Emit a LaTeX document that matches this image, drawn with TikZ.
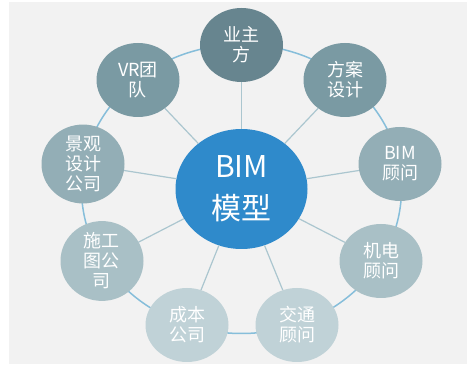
\documentclass[tikz,border=0pt]{standalone}
\usepackage{fontspec}
\newfontfamily\cjk{Noto Sans CJK SC}
\usetikzlibrary{shapes.geometric}
\definecolor{bgc}{HTML}{F2F2F2}
\definecolor{ringc}{HTML}{86BEDA}
\definecolor{spokec}{HTML}{ABC6CF}
\definecolor{cblue}{HTML}{2F8ACB}
\definecolor{cA}{HTML}{67858F}
\definecolor{cB}{HTML}{7A9AA3}
\definecolor{cC}{HTML}{93AEB6}
\definecolor{cD}{HTML}{A9C0C6}
\definecolor{cE}{HTML}{C0D2D7}
\tikzset{
  outer/.style={ellipse, minimum width=83pt, minimum height=74pt, inner sep=0pt,
    text=white, align=center, font=\cjk\fontsize{18}{20}\selectfont},
  hub/.style={ellipse, minimum width=132pt, minimum height=120pt, inner sep=0pt,
    fill=cblue, text=white, align=center, font=\cjk\fontsize{30}{42}\selectfont},
  ring/.style={draw=ringc, line width=1.5pt},
  spoke/.style={draw=spokec, line width=1.2pt}
}
\begin{document}
\begin{tikzpicture}[x=1pt,y=-1pt]
\useasboundingbox (0,0) rectangle (467,366);
\fill[white] (0,0) rectangle (467,366);
\fill[bgc] (9,2) rectangle (467,364);
\draw[ring] (241.5,189) ellipse [x radius=160, y radius=144.5];
\node[hub] (c) at (241.5,189) {BIM\\模型};
\node[outer, fill=cA] (n0) at (241.5,45) {业主\\方};
\node[outer, fill=cB] (n1) at (345,80) {方案\\设计};
\node[outer, fill=cC] (n2) at (400,164) {BIM\\顾问};
\node[outer, fill=cD] (n3) at (381,261) {机电\\顾问};
\node[outer, fill=cE] (n4) at (297,325) {交通\\顾问};
\node[outer, fill=cE] (n5) at (187,325) {成本\\公司};
\node[outer, fill=cD] (n6) at (102,261) {施工\\图公\\司};
\node[outer, fill=cC] (n7) at (83,164) {景观\\设计\\公司};
\node[outer, fill=cB] (n8) at (138,80) {VR团\\队};
\foreach \i in {0,...,8} { \draw[spoke] (c) -- (n\i); }
\end{tikzpicture}
\end{document}
